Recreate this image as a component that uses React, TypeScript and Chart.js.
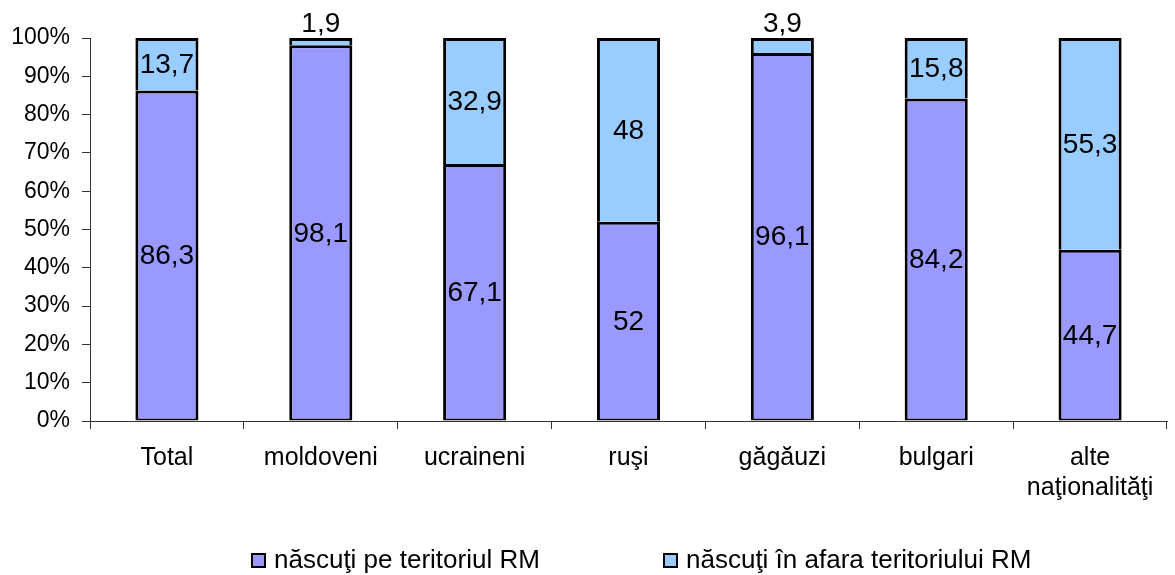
import React, { useEffect, useRef } from "react";
import { Chart, registerables } from "chart.js";

Chart.register(...registerables);

const categories: (string | string[])[] = [
  "Total",
  "moldoveni",
  "ucraineni",
  "ruşi",
  "găgăuzi",
  "bulgari",
  ["alte", "naţionalităţi"],
];
const bornInside = [86.3, 98.1, 67.1, 52, 96.1, 84.2, 44.7];
const bornOutside = [13.7, 1.9, 32.9, 48, 3.9, 15.8, 55.3];
const seriesNames = ["născuţi pe teritoriul RM", "născuţi în afara teritoriului RM"];
const seriesColors = ["#9999FF", "#99CCFF"];

const FONT = "'Liberation Sans', Arial, sans-serif";

const labelPlugin = {
  id: "barLabels",
  afterDatasetsDraw(chart: any) {
    const ctx = chart.ctx;
    ctx.save();
    ctx.font = `28px ${FONT}`;
    ctx.fillStyle = "#000";
    ctx.textAlign = "center";
    chart.data.datasets.forEach((ds: any, di: number) => {
      const meta = chart.getDatasetMeta(di);
      meta.data.forEach((bar: any, i: number) => {
        const v = ds.data[i];
        const { x, y, base } = bar.getProps(["x", "y", "base"], true);
        const h = Math.abs(base - y);
        const txt = String(v).replace(".", ",");
        if (h < 30) {
          ctx.textBaseline = "alphabetic";
          ctx.fillText(txt, x, Math.min(y, base) - 6);
        } else {
          ctx.textBaseline = "middle";
          ctx.fillText(txt, x, (y + base) / 2 + 1);
        }
      });
    });
    ctx.restore();
  },
};

const legendPlugin = {
  id: "customLegend",
  afterDraw(chart: any) {
    const ctx = chart.ctx;
    ctx.save();
    ctx.font = `26px ${FONT}`;
    ctx.textBaseline = "middle";
    ctx.textAlign = "left";
    const starts = [252, 664];
    const cy = 561;
    seriesNames.forEach((name, i) => {
      const bx = starts[i];
      ctx.fillStyle = seriesColors[i];
      ctx.fillRect(bx, cy - 7, 13, 13);
      ctx.strokeStyle = "#000";
      ctx.lineWidth = 2;
      ctx.strokeRect(bx, cy - 7, 13, 13);
      ctx.fillStyle = "#000";
      ctx.fillText(name, bx + 22, cy);
    });
    ctx.restore();
  },
};

export default function App() {
  const ref = useRef<HTMLCanvasElement>(null);
  useEffect(() => {
    document.body.style.margin = "0";
    const chart = new Chart(ref.current!, {
      type: "bar",
      data: {
        labels: categories,
        datasets: [
          {
            label: seriesNames[0],
            data: bornInside,
            backgroundColor: seriesColors[0],
            borderColor: "#000",
            borderWidth: { top: 3, left: 3, right: 3, bottom: 2 },
            borderSkipped: false,
            inflateAmount: 0,
          },
          {
            label: seriesNames[1],
            data: bornOutside,
            backgroundColor: seriesColors[1],
            borderColor: "#000",
            borderWidth: { top: 3, left: 3, right: 3, bottom: 0 },
            borderSkipped: false,
            inflateAmount: 0,
          },
        ],
      },
      options: {
        animation: false,
        responsive: false,
        devicePixelRatio: 1,
        layout: { padding: { top: 38, right: 8, left: 0, bottom: 0 } },
        datasets: { bar: { barPercentage: 0.41, categoryPercentage: 1 } },
        plugins: {
          legend: { display: false },
          tooltip: { enabled: false },
        },
        scales: {
          x: {
            stacked: true,
            grid: {
              display: true,
              drawOnChartArea: false,
              drawTicks: true,
              tickLength: 8,
              color: "#333",
              offset: true,
            },
            border: { display: true, color: "#333", width: 1 },
            ticks: {
              color: "#000",
              font: { family: FONT, size: 25 },
              padding: 14,
              maxRotation: 0,
              autoSkip: false,
            },
            afterFit: (s: any) => {
              s.height = 154;
            },
          },
          y: {
            stacked: true,
            min: 0,
            max: 100,
            grid: {
              display: true,
              drawOnChartArea: false,
              drawTicks: true,
              tickLength: 8,
              color: "#333",
            },
            border: { display: true, color: "#333", width: 1 },
            ticks: {
              stepSize: 10,
              color: "#000",
              font: { family: FONT, size: 23 },
              padding: 12,
              callback: (v: any) => v + "%",
            },
            afterFit: (s: any) => {
              s.width = 90;
            },
          },
        },
      },
      plugins: [labelPlugin, legendPlugin],
    });
    return () => chart.destroy();
  }, []);
  return (
    <div style={{ width: 1175, height: 575, background: "#fff" }}>
      <canvas ref={ref} width={1175} height={575} />
    </div>
  );
}
